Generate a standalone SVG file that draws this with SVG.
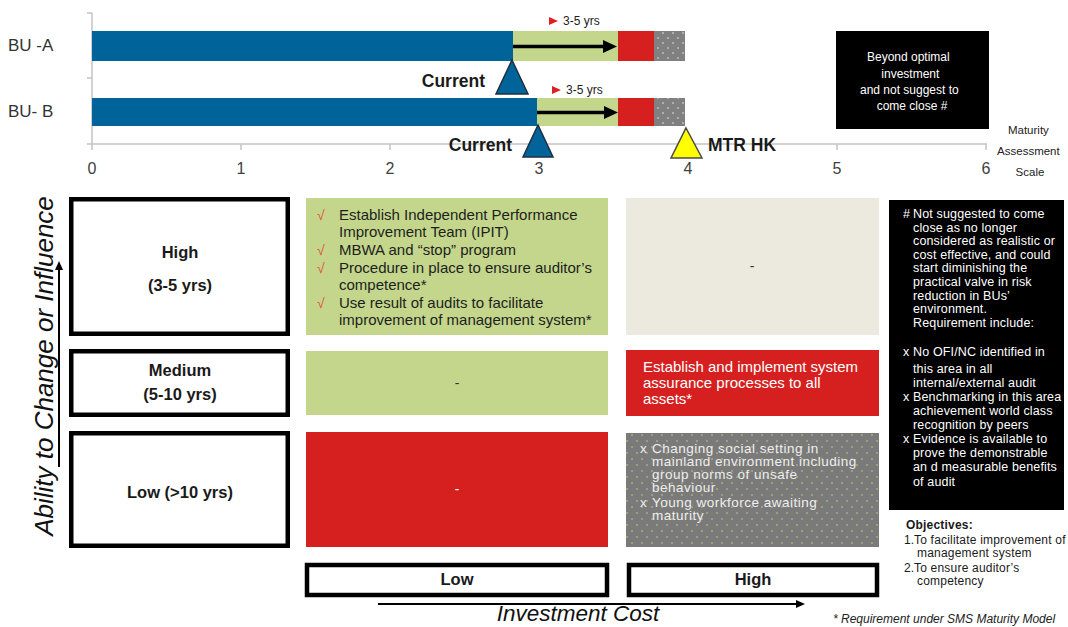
<svg xmlns="http://www.w3.org/2000/svg" width="1068" height="627" viewBox="0 0 1068 627">
  <style>
    text { font-family: "Liberation Sans", Arial, sans-serif; }
    .axis { stroke: #c4c4c4; stroke-width: 1.5; fill: none; }
    .tick { font-size: 16px; fill: #404040; text-anchor: middle; }
    .bu { font-size: 17px; fill: #333333; }
    .blue { fill: #00639a; }
    .green { fill: #c3d68b; }
    .red { fill: #d62020; }
    .beige { fill: #ece9df; }
    .yrs { font-size: 12px; fill: #222222; }
    .redtri { fill: #e02020; }
    .cur { fill: #00639a; stroke: #1d2f40; stroke-width: 1.5; }
    .lbl { font-size: 17.5px; font-weight: bold; fill: #1a1a1a; }
    .box { fill: #ffffff; stroke: #000000; stroke-width: 4.5; }
    .boxtxt { font-size: 16.5px; font-weight: bold; fill: #1a1a1a; text-anchor: middle; }
    .cell { font-size: 15px; fill: #1e1e1e; }
    .chk { font-size: 14px; fill: #e2533a; }
    .wcell { font-size: 15px; fill: #ffffff; }
    .gcell { font-size: 13.5px; fill: #eeeeee; letter-spacing: 0.5px; }
    .note { font-size: 12.5px; fill: #ffffff; letter-spacing: 0.15px; }
    .note2 { font-size: 12px; fill: #ffffff; text-anchor: middle; }
    .obj { font-size: 12px; fill: #1a1a1a; letter-spacing: 0.2px; }
    .dash { font-size: 14px; text-anchor: middle; }
    .arrowline { stroke: #000000; stroke-width: 3.5; fill: none; }
    .axisarrow { stroke: #000000; stroke-width: 2; fill: none; }
  </style>
  <defs>
    <!-- grey hatch with white dots for the chart bars -->
    <pattern id="dotsWhite" width="10" height="10" patternUnits="userSpaceOnUse">
      <rect width="10" height="10" fill="#808080"/>
      <circle cx="3" cy="3" r="0.8" fill="#e6e6e6"/>
      <circle cx="8" cy="8" r="0.8" fill="#e6e6e6"/>
    </pattern>
    <!-- grey hatch with yellow dots for the matrix cell -->
    <pattern id="dotsYellow" width="10" height="12" patternUnits="userSpaceOnUse">
      <rect width="10" height="12" fill="#7a7a7a"/>
      <circle cx="2" cy="3" r="0.8" fill="#c9cf72"/>
      <circle cx="7" cy="9" r="0.8" fill="#c9cf72"/>
    </pattern>
    <marker id="headBig" viewBox="0 0 14 13" refX="4" refY="6.5" markerWidth="14" markerHeight="13" markerUnits="userSpaceOnUse" orient="auto">
      <path d="M0,0 L14,6.5 L0,13 Z" fill="#000000"/>
    </marker>
    <marker id="headSmall" viewBox="0 0 9 8" refX="3" refY="4" markerWidth="9" markerHeight="8" markerUnits="userSpaceOnUse" orient="auto">
      <path d="M0,0 L9,4 L0,8 Z" fill="#000000"/>
    </marker>
  </defs>

  <rect width="1068" height="627" fill="#ffffff"/>

  <!-- maturity chart axes -->
  <g id="chart-axes">
    <path class="axis" d="M92,13 V144 M87,13 H92 M87,78 H92 M87,144 H987 M92,144 V150 M241,144 V150 M390,144 V150 M539,144 V150 M688,144 V150 M837,144 V150 M986,144 V150"/>
    <text class="tick" x="92" y="174">0</text>
    <text class="tick" x="241" y="174">1</text>
    <text class="tick" x="390" y="174">2</text>
    <text class="tick" x="539" y="174">3</text>
    <text class="tick" x="688" y="174">4</text>
    <text class="tick" x="837" y="174">5</text>
    <text class="tick" x="986" y="174">6</text>
    <text class="bu" x="8" y="51">BU -A</text>
    <text class="bu" x="8" y="117">BU- B</text>
    <text font-size="11.5" fill="#222222" text-anchor="middle">
      <tspan x="1030" y="134">Maturity</tspan>
      <tspan x="1030" y="155">Assessment</tspan>
      <tspan x="1030" y="176">Scale</tspan>
    </text>
  </g>

  <g id="bar-bu-a">
    <rect class="blue" x="92" y="31" width="421" height="30"/>
    <rect class="green" x="513" y="31" width="105" height="30"/>
    <rect class="red" x="618" y="31" width="36" height="30"/>
    <rect x="654" y="31" width="31" height="30" fill="url(#dotsWhite)"/>
    <path class="redtri" d="M549,17 L558,21 L549,25 Z"/>
    <text class="yrs" x="563" y="25">3-5 yrs</text>
  </g>

  <g id="bar-bu-b">
    <rect class="blue" x="92" y="98" width="445" height="28"/>
    <rect class="green" x="537" y="98" width="81" height="28"/>
    <rect class="red" x="618" y="98" width="36" height="28"/>
    <rect x="654" y="98" width="31" height="28" fill="url(#dotsWhite)"/>
    <path class="redtri" d="M552,86 L561,90 L552,94 Z"/>
    <text class="yrs" x="566" y="94">3-5 yrs</text>
  </g>

  <g id="marker-current-a">
    <path class="cur" d="M512,60 L528,94 L496,94 Z"/>
    <text class="lbl" x="485" y="87" text-anchor="end">Current</text>
  </g>
  <g id="marker-current-b">
    <path class="cur" d="M538,125 L553,157 L523,157 Z"/>
    <text class="lbl" x="512" y="151" text-anchor="end">Current</text>
  </g>
  <g id="marker-mtr-hk">
    <path d="M686,128 L702,158 L671,158 Z" fill="#ffff00" stroke="#4a4a4a" stroke-width="1.5"/>
    <text class="lbl" x="708" y="151">MTR HK</text>
  </g>

  <g id="note-beyond-optimal">
    <rect x="836" y="31" width="153" height="98" fill="#000000"/>
    <text class="note2">
      <tspan x="910" y="61">Beyond optimal</tspan>
      <tspan x="912" y="78">investment</tspan>
      <tspan x="911" y="94">and not suggest to</tspan>
      <tspan x="912" y="110">come close #</tspan>
    </text>
  </g>

  <!-- row headings -->
  <g id="row-high">
    <rect class="box" x="71.25" y="199.25" width="216.5" height="134.5"/>
    <text class="boxtxt" x="180" y="258">High</text>
    <text class="boxtxt" x="180" y="291">(3-5 yrs)</text>
  </g>
  <g id="row-medium">
    <rect class="box" x="71.25" y="351.25" width="216.5" height="63.5"/>
    <text class="boxtxt" x="180" y="376">Medium</text>
    <text class="boxtxt" x="180" y="400">(5-10 yrs)</text>
  </g>
  <g id="row-low">
    <rect class="box" x="71.25" y="433.25" width="216.5" height="112.5"/>
    <text class="boxtxt" x="180" y="498">Low (&gt;10 yrs)</text>
  </g>

  <!-- column headings -->
  <g id="col-low">
    <rect class="box" x="307" y="565" width="300" height="30"/>
    <text class="boxtxt" x="457" y="585">Low</text>
  </g>
  <g id="col-high">
    <rect class="box" x="629" y="565" width="248" height="30"/>
    <text class="boxtxt" x="753" y="585">High</text>
  </g>

  <!-- matrix cells -->
  <g id="cell-high-low">
    <rect class="green" x="306" y="198" width="302" height="137"/>
    <text class="chk" x="317" y="220">√</text>
    <text class="chk" x="317" y="255">√</text>
    <text class="chk" x="317" y="273">√</text>
    <text class="chk" x="317" y="308">√</text>
    <text class="cell">
      <tspan x="339" y="220">Establish Independent Performance</tspan>
      <tspan x="339" y="237">Improvement Team (IPIT)</tspan>
      <tspan x="339" y="255">MBWA and “stop” program</tspan>
      <tspan x="339" y="273">Procedure in place to ensure auditor’s</tspan>
      <tspan x="339" y="290">competence*</tspan>
      <tspan x="339" y="308">Use result of audits to facilitate</tspan>
      <tspan x="339" y="325">improvement of management system*</tspan>
    </text>
  </g>
  <g id="cell-high-high">
    <rect class="beige" x="626" y="198" width="253" height="137"/>
    <text class="dash" x="752" y="271" fill="#333333">-</text>
  </g>
  <g id="cell-medium-low">
    <rect class="green" x="306" y="351" width="302" height="64"/>
    <text class="dash" x="457" y="388" fill="#333333">-</text>
  </g>
  <g id="cell-medium-high">
    <rect class="red" x="626" y="350" width="253" height="66"/>
    <text class="wcell">
      <tspan x="643" y="372">Establish and implement system</tspan>
      <tspan x="643" y="388">assurance processes to all</tspan>
      <tspan x="643" y="404">assets*</tspan>
    </text>
  </g>
  <g id="cell-low-low">
    <rect class="red" x="306" y="432" width="302" height="115"/>
    <text class="dash" x="457" y="494" fill="#ffffff">-</text>
  </g>
  <g id="cell-low-high">
    <rect x="626" y="433" width="253" height="114" fill="url(#dotsYellow)"/>
    <text class="gcell">
      <tspan x="640" y="453">x</tspan>
      <tspan x="652" y="453">Changing social setting in</tspan>
      <tspan x="652" y="466">mainland environment including</tspan>
      <tspan x="652" y="479">group norms of unsafe</tspan>
      <tspan x="652" y="492">behaviour</tspan>
      <tspan x="640" y="507">x</tspan>
      <tspan x="652" y="507">Young workforce awaiting</tspan>
      <tspan x="652" y="520">maturity</tspan>
    </text>
  </g>

  <!-- side note -->
  <g id="note-requirements">
    <rect x="889" y="200" width="175" height="310" fill="#000000"/>
    <text class="note">
      <tspan x="903" y="218">#</tspan>
      <tspan x="913" y="218">Not suggested to come</tspan>
      <tspan x="913" y="231.6">close as no longer</tspan>
      <tspan x="913" y="245.2">considered as realistic or</tspan>
      <tspan x="913" y="258.8">cost effective, and could</tspan>
      <tspan x="913" y="272.4">start diminishing the</tspan>
      <tspan x="913" y="286">practical valve in risk</tspan>
      <tspan x="913" y="299.6">reduction in BUs’</tspan>
      <tspan x="913" y="313.2">environment.</tspan>
      <tspan x="913" y="326.8">Requirement include:</tspan>
      <tspan x="903" y="356">x</tspan>
      <tspan x="913" y="356">No OFI/NC identified in</tspan>
      <tspan x="913" y="373">this area in all</tspan>
      <tspan x="913" y="387">internal/external audit</tspan>
      <tspan x="903" y="401">x</tspan>
      <tspan x="913" y="401">Benchmarking in this area</tspan>
      <tspan x="913" y="415">achievement world class</tspan>
      <tspan x="913" y="429">recognition by peers</tspan>
      <tspan x="903" y="443">x</tspan>
      <tspan x="913" y="443">Evidence is available to</tspan>
      <tspan x="913" y="457">prove the demonstrable</tspan>
      <tspan x="913" y="471">an d measurable benefits</tspan>
      <tspan x="913" y="486">of audit</tspan>
    </text>
  </g>

  <g id="objectives">
    <text class="obj" x="906" y="529" font-weight="bold">Objectives:</text>
    <text class="obj">
      <tspan x="904" y="544">1.</tspan>
      <tspan x="914" y="544">To facilitate improvement of</tspan>
      <tspan x="917" y="557">management system</tspan>
      <tspan x="904" y="572">2.</tspan>
      <tspan x="914" y="572">To ensure auditor’s</tspan>
      <tspan x="917" y="585">competency</tspan>
    </text>
  </g>

  <!-- axis titles -->
  <text x="53" y="366" transform="rotate(-90 53 366)" font-size="26" font-style="italic" fill="#111111" text-anchor="middle">Ability to Change or Influence</text>
  <text x="578" y="621" font-size="22.5" font-style="italic" fill="#111111" text-anchor="middle">Investment Cost</text>
  <text x="833" y="623" font-size="12" font-style="italic" fill="#222222">* Requirement under SMS Maturity Model</text>

  <!-- connectors -->
  <g id="connectors">
    <line class="arrowline" x1="513" y1="46.5" x2="607" y2="46.5" marker-end="url(#headBig)"/>
    <line class="arrowline" x1="537" y1="112.5" x2="608" y2="112.5" marker-end="url(#headBig)"/>
    <line class="axisarrow" x1="59" y1="467" x2="59" y2="267" marker-end="url(#headSmall)"/>
    <line class="axisarrow" x1="378" y1="604" x2="799" y2="604" marker-end="url(#headSmall)"/>
  </g>
</svg>
